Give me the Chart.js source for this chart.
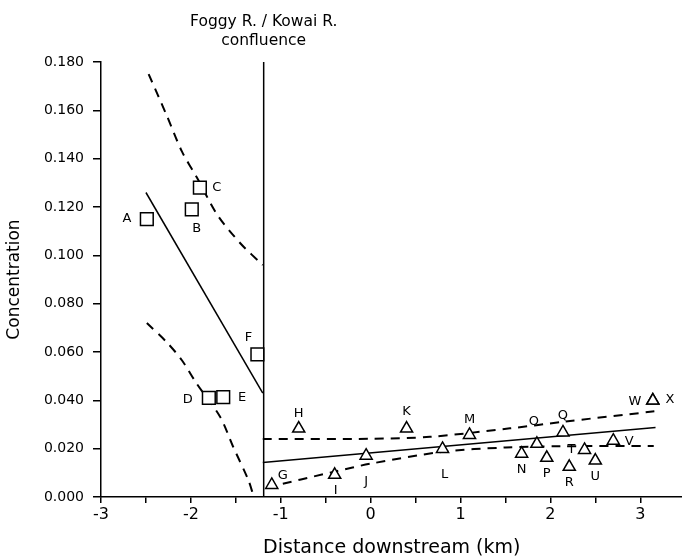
<!DOCTYPE html>
<html>
<head>
<meta charset="utf-8">
<script src="https://cdn.jsdelivr.net/npm/chart.js@4.4.1/dist/chart.umd.min.js"></script>
<style>
  html, body { margin: 0; padding: 0; background: #fff; overflow: hidden; }
  canvas { display: block; }
</style>
</head>
<body>
<!-- a little wider than the window: Chart.js keeps ~11px spare on the right of the x axis -->
<canvas id="chart" width="693" height="559"></canvas>
<script>
// upstream sites (squares), Foggy R.
const upSites = ["A", "B", "C", "D", "E", "F"];
const upKm = [-2.49, -1.99, -1.9, -1.8, -1.64, -1.26];
const upConc = [0.115, 0.119, 0.128, 0.041, 0.0413, 0.059];

// downstream sites (triangles), Kowai R.
const downSites = ["G", "H", "I", "J", "K", "L", "M", "N", "O", "P", "Q", "R", "T", "U", "V", "W", "X"];
const downKm = [-1.1, -0.8, -0.4, -0.05, 0.4, 0.8, 1.1, 1.68, 1.85, 1.96, 2.14, 2.21, 2.38, 2.5, 2.7, 3.14, 3.14];
const downConc = [0.005, 0.0283, 0.0092, 0.0171, 0.0283, 0.0199, 0.0257, 0.0179, 0.022, 0.0162, 0.0267, 0.0125, 0.0195, 0.0151, 0.0233, 0.0399, 0.0399];

// regression line and confidence bands, upstream
const upFitKm = [-2.5, -1.2];
const upFitConc = [0.126, 0.043];
const upHiKm = [-2.47, -2.27, -2.1, -1.93, -1.71, -1.45, -1.2];
const upHiConc = [0.175, 0.158, 0.143, 0.132, 0.117, 0.105, 0.096];
const upLoKm = [-2.49, -2.27, -2.1, -1.935, -1.675, -1.53, -1.36, -1.3];
const upLoConc = [0.072, 0.0641, 0.0566, 0.0469, 0.0332, 0.0208, 0.007, 0.0];

// regression line and confidence bands, downstream
const downFitKm = [-1.2, 3.17];
const downFitConc = [0.0143, 0.0288];
const downHiKm = [-1.2, 0, 0.66, 1.55, 2.14, 3.17];
const downHiConc = [0.024, 0.0241, 0.0249, 0.0284, 0.0311, 0.0355];
const downLoKm = [-1.15, -0.4, 0, 0.8, 1.5, 2.1, 3.15];
const downLoConc = [0.004, 0.0105, 0.0138, 0.0187, 0.0205, 0.021, 0.0211];

const confluenceKm = -1.19;
const yTicks = [0, 0.18, 0.02];   // min, max, step
const xTicks = [-3, 3.47, 0.5];

const pts = (xs, ys) => xs.map((x, i) => ({ x, y: ys[i] }));

// where each site letter sits relative to its marker
const labelOffsets = {
  A: [-20, 0], B: [5, 19], C: [17, 0], D: [-21, 2], E: [19, 0], F: [-9, -17],
  G: [11, -9], H: [0, -15], I: [1, 16], J: [0, 26], K: [0, -17], L: [2, 26],
  M: [0, -15], N: [0, 16], O: [-3, -22], P: [0, 16], Q: [0, -17], R: [0, 16],
  T: [-13, 0], U: [0, 16], V: [16, 1], W: [-18, 1], X: [17, -1]
};

const FONT = "'DejaVu Sans', sans-serif";

const siteLabels = {
  id: "siteLabels",
  afterDatasetsDraw(chart) {
    const { ctx } = chart;
    const xs = chart.scales.x, ys = chart.scales.y;
    ctx.save();
    ctx.fillStyle = "#000";
    ctx.font = "13px " + FONT;
    ctx.textAlign = "center";
    ctx.textBaseline = "middle";
    const put = (names, kx, ky) => names.forEach((n, i) => {
      const o = labelOffsets[n] || [0, 0];
      ctx.fillText(n, xs.getPixelForValue(kx[i]) + o[0], ys.getPixelForValue(ky[i]) + o[1]);
    });
    put(upSites, upKm, upConc);
    put(downSites, downKm, downConc);

    // confluence caption above the vertical line
    const cx = xs.getPixelForValue(confluenceKm);
    ctx.font = "15.5px " + FONT;
    ctx.textBaseline = "alphabetic";
    ctx.fillText("Foggy R. / Kowai R.", cx, 26);
    ctx.fillText("confluence", cx, 45);
    ctx.restore();
  }
};

const lineDs = (data, dashed) => ({
  data,
  showLine: true,
  borderColor: "#000",
  borderWidth: dashed ? 2 : 1.5,
  borderDash: dashed ? [9, 7] : [],
  pointRadius: 0,
  tension: dashed ? 0.3 : 0,
  fill: false
});

new Chart(document.getElementById("chart"), {
  type: "scatter",
  data: {
    datasets: [
      {
        data: pts(upKm, upConc),
        pointStyle: "rect",
        pointRadius: 9,
        borderColor: "#000",
        backgroundColor: "#fff",
        borderWidth: 1.5
      },
      {
        data: pts(downKm, downConc),
        pointStyle: "triangle",
        pointRadius: 7,
        borderColor: "#000",
        backgroundColor: "#fff",
        borderWidth: 1.5
      },
      lineDs(pts(upFitKm, upFitConc), false),
      lineDs(pts(upHiKm, upHiConc), true),
      lineDs(pts(upLoKm, upLoConc), true),
      lineDs(pts(downFitKm, downFitConc), false),
      lineDs(pts(downHiKm, downHiConc), true),
      lineDs(pts(downLoKm, downLoConc), true),
      lineDs([{ x: confluenceKm, y: yTicks[0] }, { x: confluenceKm, y: yTicks[1] }], false)
    ]
  },
  options: {
    responsive: false,
    animation: false,
    devicePixelRatio: 1,
    layout: { padding: { top: 62, right: 0, bottom: 0, left: 0 } },
    plugins: { legend: { display: false }, tooltip: { enabled: false } },
    scales: {
      x: {
        type: "linear",
        min: xTicks[0],
        max: xTicks[1],
        afterFit: (s) => { s.height = 62; },
        border: { color: "#000", width: 1.5 },
        grid: { drawOnChartArea: false, drawTicks: true, tickLength: 6, color: "#000", lineWidth: 1.5 },
        ticks: {
          stepSize: xTicks[2],
          includeBounds: false,
          autoSkip: false,
          maxRotation: 0,
          padding: 2,
          color: "#000",
          font: { family: FONT, size: 16 },
          callback: (v) => (Math.abs(v - Math.round(v)) < 1e-6 ? String(Math.round(v)) : "")
        },
        title: {
          display: true,
          text: "Distance downstream (km)",
          color: "#000",
          font: { family: FONT, size: 19 },
          padding: { top: 0, bottom: 0 }
        }
      },
      y: {
        type: "linear",
        min: yTicks[0],
        max: yTicks[1],
        afterFit: (s) => { s.width = 101; },
        border: { color: "#000", width: 1.5 },
        grid: { drawOnChartArea: false, drawTicks: true, tickLength: 8, color: "#000", lineWidth: 1.5 },
        ticks: {
          stepSize: yTicks[2],
          padding: 9,
          color: "#000",
          font: { family: FONT, size: 14 },
          callback: (v) => v.toFixed(3)
        },
        title: {
          display: true,
          text: "Concentration",
          color: "#000",
          font: { family: FONT, size: 17 },
          padding: { top: 4, bottom: 0 }
        }
      }
    }
  },
  plugins: [siteLabels]
});
</script>
</body>
</html>
